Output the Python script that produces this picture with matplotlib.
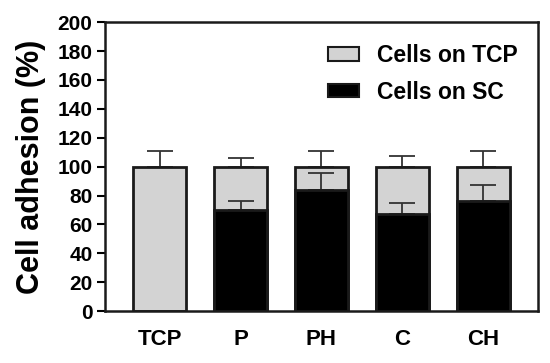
import numpy as np
import matplotlib.pyplot as plt

plt.rcParams['font.family'] = ['Liberation Sans', 'DejaVu Sans']
plt.rcParams['font.weight'] = 'bold'

groups   = ['TCP', 'P', 'PH', 'C', 'CH']
total    = [100, 100, 100, 100, 100]
total_sd = [10.5, 6, 11, 7.5, 11]
sc       = [0, 70, 84, 67, 76]
sc_sd    = [0, 6, 11.5, 8, 11]


def main():
    fig = plt.figure(figsize=(5.5, 3.63), dpi=100)
    ax = fig.add_axes([0.191, 0.143, 0.787, 0.796])

    x = np.arange(len(groups))
    width = 0.655
    edge = '#1a1a1a'

    ax.bar(x, total, width, color='#d3d3d3', edgecolor=edge, linewidth=2,
           label='Cells on TCP', zorder=2)
    ax.errorbar(x, total, yerr=[np.zeros(len(x)), total_sd], fmt='none',
                ecolor='#333333', elinewidth=1.3, capsize=9.7, capthick=1.3, zorder=1)

    has_sc = [i for i in range(len(groups)) if sc[i] > 0]
    xs = x[has_sc]
    ys = np.array(sc)[has_sc]
    es = np.array(sc_sd)[has_sc]
    ax.bar(xs, ys, width, color='black', edgecolor=edge, linewidth=2,
           label='Cells on SC', zorder=3)
    ax.errorbar(xs, ys, yerr=[np.zeros(len(xs)), es], fmt='none',
                ecolor='#333333', elinewidth=1.3, capsize=9.7, capthick=1.3, zorder=2)

    ax.set_xlim(-0.673, len(groups) - 1 + 0.673)
    ax.set_ylim(0, 200)
    ax.set_yticks(np.arange(0, 201, 20))
    ax.set_xticks(x)
    ax.set_xticklabels(groups, fontsize=16, fontweight='bold')
    ax.tick_params(axis='x', length=0, pad=13)
    ax.tick_params(axis='y', length=6, width=1.5, labelsize=15, pad=3)
    for lab in ax.get_yticklabels():
        lab.set_fontweight('bold')
    for s in ax.spines.values():
        s.set_linewidth(1.8)
        s.set_color('#1a1a1a')

    ax.set_ylabel('Cell adhesion (%)', fontsize=22, fontweight='bold', labelpad=8)

    leg = ax.legend(loc='upper left', frameon=False, fontsize=16.5,
                    handlelength=1.35, handleheight=0.55, handletextpad=0.8,
                    labelspacing=0.6, borderpad=0, borderaxespad=0,
                    bbox_to_anchor=(0.515, 0.925))
    for t in leg.get_texts():
        t.set_fontweight('bold')
    for h in leg.legend_handles:
        h.set_linewidth(1.5)

    fig.savefig('out.png', dpi=100)
    plt.close(fig)


if __name__ == "__main__":
    main()
